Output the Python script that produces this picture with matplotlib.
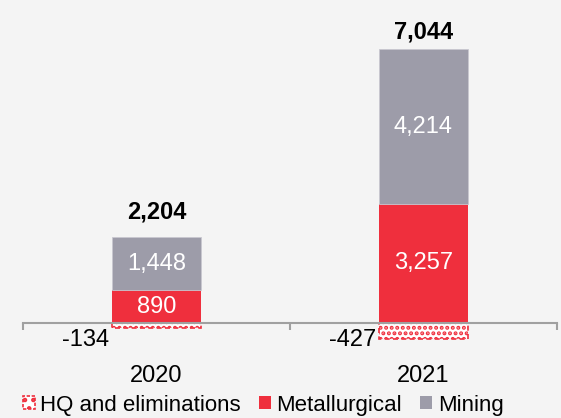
import matplotlib.pyplot as plt
from matplotlib.patches import Patch

plt.rcParams['font.family'] = ['Liberation Sans', 'DejaVu Sans']
plt.rcParams['hatch.linewidth'] = 2.0

years = ['2020', '2021']
hq = [-134, -427]
metallurgical = [890, 3257]
mining = [1448, 4214]
totals = ['2,204', '7,044']

red = '#ef2f3d'
grey = '#9d9ca9'
bg = '#f4f4f4'
fs = 17

fig = plt.figure(figsize=(5.61, 4.18), dpi=100, facecolor=bg)
ax = fig.add_axes([0, 0, 1, 1], facecolor=bg)

x = [0, 1]
w = 0.333

b_hq = ax.bar(x, hq, w, color='white', edgecolor=red, hatch='...',
              linestyle=(0, (3, 2)), linewidth=1.2, zorder=2)
b_met = ax.bar(x, metallurgical, w, color=red, linewidth=0, zorder=2)
b_min = ax.bar(x, mining, w, bottom=metallurgical, color=grey,
               edgecolor='#c9c8d0', linewidth=0.6, zorder=2)

for i in range(len(x)):
    ax.text(x[i], metallurgical[i] / 2, f'{metallurgical[i]:,}', color='white',
            ha='center', va='center', fontsize=fs)
    ax.text(x[i], metallurgical[i] + mining[i] / 2, f'{mining[i]:,}', color='white',
            ha='center', va='center', fontsize=fs)
    ax.annotate(f'{hq[i]:,}', (x[i] - w / 2, 0), xytext=(-3, -17),
                textcoords='offset pixels', ha='right', va='center', fontsize=fs)
    ax.annotate(years[i], (x[i], 0), xytext=(0, -53), textcoords='offset pixels',
                ha='center', va='center', fontsize=fs)

top_offsets = [25, 17]
for i in range(len(x)):
    ax.annotate(totals[i], (x[i], metallurgical[i] + mining[i]),
                xytext=(0, top_offsets[i]), textcoords='offset pixels',
                ha='center', va='center', fontsize=fs, fontweight='bold')

ax.set_xlim(-0.586, 1.515)
ax.set_ylim(-2594, 8818)

for s in ['top', 'left', 'right']:
    ax.spines[s].set_visible(False)
ax.spines['bottom'].set_position(('data', 0))
ax.spines['bottom'].set_bounds(-0.5, 1.5)
ax.spines['bottom'].set_color('#a0a0a0')
ax.spines['bottom'].set_linewidth(1.5)
ax.spines['bottom'].set_zorder(3)
ax.set_xticks([-0.5, 0.5, 1.5])
ax.set_xticklabels([])
ax.tick_params(axis='x', direction='out', length=5, width=1.5, color='#a0a0a0')
ax.set_yticks([])

handles = [Patch(facecolor='white', edgecolor=red, hatch='..', linestyle=(0, (2, 1)), linewidth=1.2),
           Patch(facecolor=red),
           Patch(facecolor=grey)]
fig.legend(handles, ['HQ and eliminations', 'Metallurgical', 'Mining'],
           loc='center', bbox_to_anchor=(263 / 561, 1 - 405 / 418), ncol=3,
           frameon=False, fontsize=16, handlelength=0.55, handleheight=0.55,
           handletextpad=0.25, columnspacing=0.8, borderpad=0)

fig.savefig('out.png', dpi=100, facecolor=bg)
